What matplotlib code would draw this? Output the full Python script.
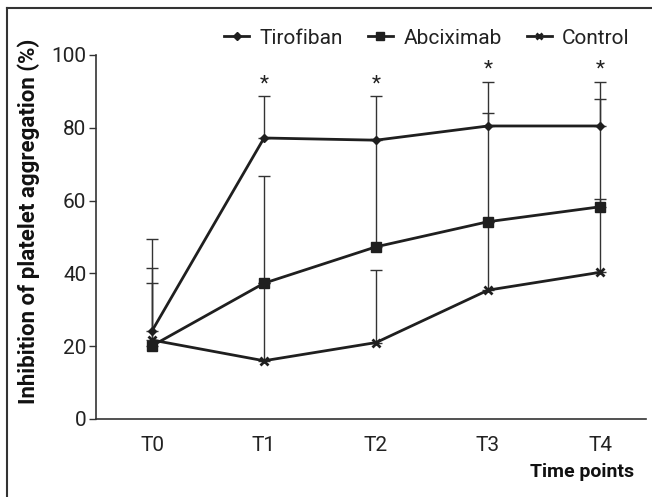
import matplotlib
matplotlib.use("Agg")
import matplotlib.pyplot as plt
from matplotlib.lines import Line2D
from matplotlib import font_manager

names = {f.name for f in font_manager.fontManager.ttflist}
narrow = 'Liberation Sans Narrow' if 'Liberation Sans Narrow' in names else 'Roboto'
plt.rcParams['font.family'] = ['Roboto', 'DejaVu Sans']

time_labels = ["T0", "T1", "T2", "T3", "T4"]
tirofiban = [24.2, 77.2, 76.6, 80.5, 80.5]
tirofiban_err = [25.3, 11.4, 12.0, 12.2, 12.2]
abciximab = [20.1, 37.3, 47.3, 54.2, 58.3]
abciximab_err = [17.2, 29.5, 29.7, 29.8, 29.5]
control = [21.7, 16.0, 21.0, 35.4, 40.3]
control_err = [19.9, 21.3, 19.9, 18.8, 20.1]
star_idx = [1, 2, 3, 4]

W, H = 652, 497
fig = plt.figure(figsize=(W / 100, H / 100), dpi=100)
ax = fig.add_axes([96 / W, (H - 419) / H, (646 - 96) / W, (419 - 55) / H])

x = list(range(len(time_labels)))
ecol = '#333333'
lcol = '#1f1f1f'
series = [
    (tirofiban, tirofiban_err, 'D', 4.5, "Tirofiban"),
    (abciximab, abciximab_err, 's', 7, "Abciximab"),
    (control, control_err, 'x', 5.5, "Control"),
]
handles = []
for vals, err, mk, ms, lab in series:
    ax.errorbar(x, vals, yerr=[[0] * len(err), err], fmt='none', ecolor=ecol,
                elinewidth=1.0, capsize=4, capthick=1.0, zorder=2)
    ax.plot(x, vals, color=lcol, lw=2.0, marker=mk, ms=ms, mew=2 if mk == 'x' else 1,
            mfc=lcol, mec=lcol, zorder=3)
    handles.append(Line2D([], [], color=lcol, lw=2.0, marker=mk,
                          ms=ms * 0.8, mew=2 if mk == 'x' else 1, mfc=lcol, mec=lcol, label=lab))

for i in star_idx:
    top = tirofiban[i] + tirofiban_err[i]
    ax.annotate("*", (x[i], top), xytext=(0, 2), textcoords='offset points',
                ha='center', va='bottom', fontsize=15, color='#222222')

ax.set_xlim(-0.5, 4.41)
ax.set_ylim(0, 100)
ax.set_yticks([0, 20, 40, 60, 80, 100])
ax.set_xticks(x)
ax.set_xticklabels(time_labels)
for s in ['top', 'right']:
    ax.spines[s].set_visible(False)
for s in ['left', 'bottom']:
    ax.spines[s].set_color('#333333')
    ax.spines[s].set_linewidth(1.2)
ax.tick_params(axis='y', direction='out', length=5, width=1, color='#333333',
               labelsize=15, pad=2, labelcolor='#222222')
ax.tick_params(axis='x', length=0, labelsize=15, pad=12, labelcolor='#222222')

fig.text(29 / W, 1 - 221 / H, "Inhibition of platelet aggregation (%)", rotation=90,
         ha='center', va='center', fontsize=16, fontweight='bold', family=[narrow, 'DejaVu Sans'],
         color='#111111')
fig.text(634 / W, 1 - 472 / H, "Time points", ha='right', va='center', fontsize=14,
         fontweight='bold', family=[narrow, 'DejaVu Sans'], color='#111111')

fig.legend(handles=handles, loc='center right', bbox_to_anchor=(638 / W, 1 - 38 / H),
           ncol=3, frameon=False, fontsize=15, handlelength=1.2, handletextpad=0.5,
           columnspacing=1.2, borderaxespad=0, labelcolor='#222222')

fig.add_artist(Line2D([7 / W, 7 / W], [0, 1 - 8 / H], transform=fig.transFigure,
                      color='#333333', lw=1.5))
fig.add_artist(Line2D([7 / W, 1], [1 - 8 / H, 1 - 8 / H], transform=fig.transFigure,
                      color='#333333', lw=1.5))

fig.savefig("out.png", dpi=100)
